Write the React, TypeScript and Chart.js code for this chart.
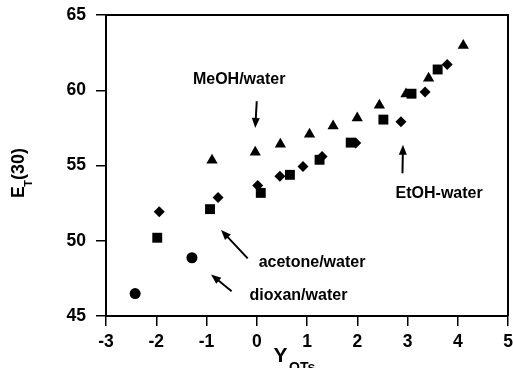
import React, { useEffect, useRef } from "react";
import { Chart, registerables } from "chart.js";

Chart.register(...registerables);

// MeOH/water (triangles)
const meohX = [-0.89, -0.03, 0.47, 1.05, 1.52, 2.0, 2.44, 2.97, 3.42, 4.11];
const meohY = [55.35, 55.88, 56.42, 57.08, 57.62, 58.15, 59.0, 59.75, 60.8, 62.97];
// acetone/water (squares)
const acetoneX = [-1.98, -0.93, 0.08, 0.66, 1.25, 1.87, 2.52, 3.08, 3.6];
const acetoneY = [50.2, 52.1, 53.18, 54.38, 55.38, 56.52, 58.05, 59.77, 61.38];
// EtOH-water (diamonds)
const etohX = [-1.94, -0.77, 0.02, 0.46, 0.92, 1.3, 1.97, 2.87, 3.35, 3.79];
const etohY = [51.93, 52.87, 53.67, 54.28, 54.93, 55.6, 56.5, 57.9, 59.89, 61.71];
// dioxan/water (circles)
const dioxanX = [-2.42, -1.29];
const dioxanY = [46.49, 48.87];

const xMin = -3;
const xMax = 5;
const yMin = 45;
const yMax = 65;

// annotations (data units)
const annotationLabels = ["MeOH/water", "EtOH-water", "acetone/water", "dioxan/water"];
const labelX = [-0.35, 3.63, 1.1, 0.83];
const labelY = [60.71, 53.16, 48.56, 46.38];
const arrowFromX = [0.0, 2.9, -0.18, -0.5];
const arrowFromY = [59.27, 54.49, 48.83, 46.65];
const arrowToX = [-0.03, 2.91, -0.71, -0.91];
const arrowToY = [57.49, 56.38, 50.71, 47.76];

const FONT = '"Liberation Sans", Arial, Helvetica, sans-serif';

const toPts = (xs: number[], ys: number[]) => xs.map((x, i) => ({ x, y: ys[i] }));

const zeroPadding = (s: any) => {
  s.paddingTop = 0;
  s.paddingBottom = 0;
  s.paddingLeft = 0;
  s.paddingRight = 0;
};

const extrasPlugin = {
  id: "extras",
  afterDraw(chart: any) {
    const ctx = chart.ctx as CanvasRenderingContext2D;
    const { left, right, top, bottom } = chart.chartArea;
    const xs = chart.scales.x;
    const ys = chart.scales.y;
    ctx.save();
    // top and right frame
    ctx.strokeStyle = "#000";
    ctx.lineWidth = 2;
    ctx.beginPath();
    ctx.moveTo(left, top);
    ctx.lineTo(right, top);
    ctx.lineTo(right, bottom);
    ctx.stroke();

    // annotations
    ctx.fillStyle = "#000";
    ctx.font = `bold 16px ${FONT}`;
    ctx.textAlign = "center";
    ctx.textBaseline = "middle";
    annotationLabels.forEach((t, i) => {
      ctx.fillText(t, xs.getPixelForValue(labelX[i]), ys.getPixelForValue(labelY[i]));
      const x1 = xs.getPixelForValue(arrowFromX[i]);
      const y1 = ys.getPixelForValue(arrowFromY[i]);
      const x2 = xs.getPixelForValue(arrowToX[i]);
      const y2 = ys.getPixelForValue(arrowToY[i]);
      const ang = Math.atan2(y2 - y1, x2 - x1);
      const hl = 10;
      const hw = 4;
      const bx = x2 - Math.cos(ang) * hl;
      const by = y2 - Math.sin(ang) * hl;
      ctx.lineWidth = 2;
      ctx.beginPath();
      ctx.moveTo(x1, y1);
      ctx.lineTo(bx + Math.cos(ang) * 2, by + Math.sin(ang) * 2);
      ctx.stroke();
      ctx.beginPath();
      ctx.moveTo(x2, y2);
      ctx.lineTo(bx - Math.sin(ang) * hw, by + Math.cos(ang) * hw);
      ctx.lineTo(bx + Math.sin(ang) * hw, by - Math.cos(ang) * hw);
      ctx.closePath();
      ctx.fill();
    });

    // x-axis title: Y_OTs
    ctx.textAlign = "left";
    ctx.textBaseline = "alphabetic";
    ctx.font = `bold 21px ${FONT}`;
    ctx.fillText("Y", 273.5, 362);
    ctx.font = `bold 14px ${FONT}`;
    ctx.fillText("OTs", 289, 371.5);

    // y-axis title: E_T(30)
    ctx.translate(23.5, 198);
    ctx.rotate(-Math.PI / 2);
    ctx.font = `bold 17.5px ${FONT}`;
    ctx.fillText("E", 0, 0);
    const wE = ctx.measureText("E").width;
    ctx.font = `bold 11px ${FONT}`;
    ctx.fillText("T", wE - 0.5, 8);
    const wT = ctx.measureText("T").width;
    ctx.font = `bold 18px ${FONT}`;
    ctx.fillText("(30)", wE + wT - 0.5, 0);
    ctx.restore();
  },
};

export default function App() {
  const ref = useRef<HTMLCanvasElement | null>(null);
  useEffect(() => {
    if (!ref.current) return;
    const common = {
      backgroundColor: "#000",
      borderColor: "#000",
      borderWidth: 0,
      showLine: false,
      pointHoverRadius: 0,
    };
    const chart = new Chart(ref.current, {
      type: "scatter",
      data: {
        datasets: [
          { ...common, label: "dioxan/water", data: toPts(dioxanX, dioxanY), pointStyle: "circle", pointRadius: 5.5 },
          { ...common, label: "acetone/water", data: toPts(acetoneX, acetoneY), pointStyle: "rect", pointRadius: 7 },
          { ...common, label: "EtOH-water", data: toPts(etohX, etohY), pointStyle: "rectRot", pointRadius: 5.5 },
          { ...common, label: "MeOH/water", data: toPts(meohX, meohY), pointStyle: "triangle", pointRadius: 6.5 },
        ],
      },
      options: {
        responsive: false,
        animation: false,
        events: [],
        layout: { autoPadding: false, padding: { left: 0, right: 5, top: 15, bottom: 0 } },
        plugins: { legend: { display: false }, tooltip: { enabled: false }, title: { display: false } },
        scales: {
          x: {
            type: "linear",
            min: xMin,
            max: xMax,
            afterFit: (s: any) => {
              s.height = 52;
              zeroPadding(s);
            },
            ticks: {
              stepSize: 1,
              color: "#000",
              font: { family: FONT, size: 17.5, weight: "bold" },
              padding: 6,
              maxRotation: 0,
            },
            grid: { drawOnChartArea: false, drawTicks: true, tickLength: 10, color: "#000", lineWidth: 1.5 },
            border: { display: true, color: "#000", width: 2 },
          },
          y: {
            type: "linear",
            min: yMin,
            max: yMax,
            afterFit: (s: any) => {
              s.width = 106;
              zeroPadding(s);
            },
            ticks: {
              stepSize: 5,
              color: "#000",
              font: { family: FONT, size: 17.5, weight: "bold" },
              padding: 10,
            },
            grid: { drawOnChartArea: false, drawTicks: true, tickLength: 10, color: "#000", lineWidth: 1.5 },
            border: { display: true, color: "#000", width: 2 },
          },
        },
      },
      plugins: [extrasPlugin],
    } as any);
    return () => chart.destroy();
  }, []);
  return (
    <div style={{ position: "fixed", left: 0, top: 0, width: 513, height: 368, background: "#fff" }}>
      <canvas ref={ref} width={513} height={368} style={{ display: "block" }} />
    </div>
  );
}
